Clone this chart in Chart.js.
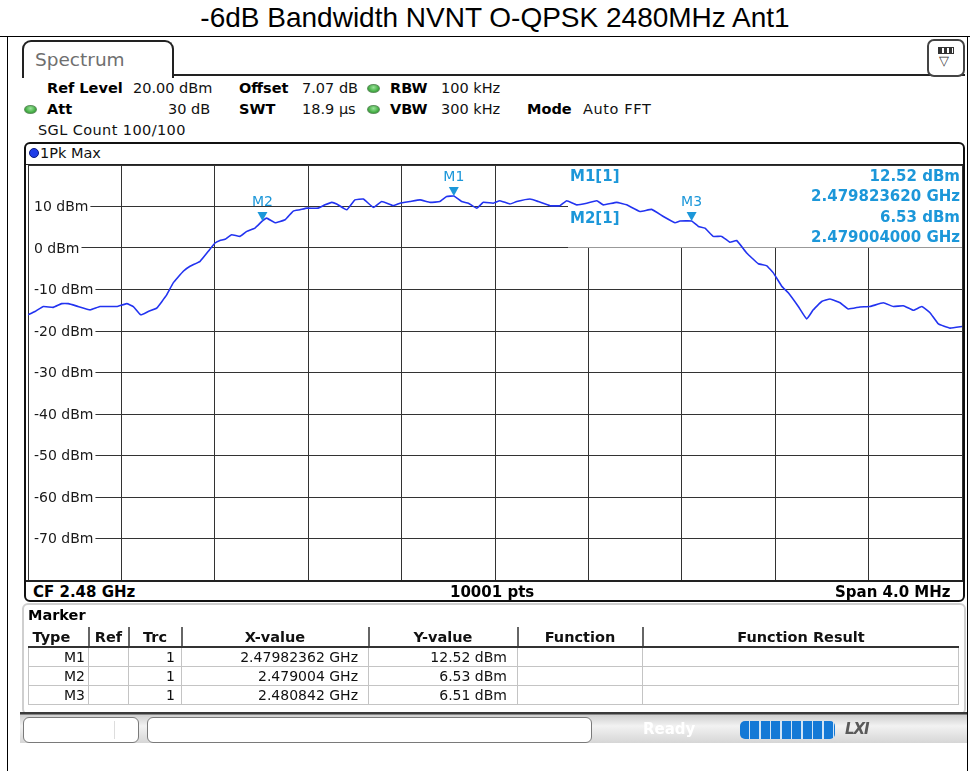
<!DOCTYPE html>
<html>
<head>
<meta charset="utf-8">
<title>-6dB Bandwidth NVNT O-QPSK 2480MHz Ant1</title>
<script src="https://cdn.jsdelivr.net/npm/chart.js@4.4.1/dist/chart.umd.min.js"></script>
<style>
html, body { margin: 0; padding: 0; background: #fff; }
#page { position: relative; width: 970px; height: 771px; overflow: hidden; font-family: 'DejaVu Sans', sans-serif; color: #111; }
.a { position: absolute; white-space: nowrap; font-size: 14.5px; line-height: 16px; }
.b { font-weight: bold; color: #000; }
.dot { position: absolute; width: 11px; height: 7px; border-radius: 50%; background: radial-gradient(ellipse at 50% 35%, #9be39b, #3aa83a 70%); border: 1px solid #5c8f5c; }
#title { position: absolute; left: 0; top: 0; width: 990px; height: 36px; text-align: center; font: 28px 'Liberation Sans', Arial, sans-serif; line-height: 36px; color: #000; }
.line { position: absolute; background: #000; }
#tab { position: absolute; left: 22px; top: 40px; width: 148px; height: 36px; border: 2px solid #222; border-bottom: none; border-radius: 9px 9px 0 0; background: #fff; }
#tab span { position: absolute; left: 11px; top: 7px; font-size: 18.5px; color: #6f6f6f; }
#icon { position: absolute; left: 927px; top: 39px; width: 34px; height: 34px; border: 2px solid #444; border-radius: 7px; background: #fff; }
#frame { position: absolute; left: 24px; top: 142px; width: 937px; height: 456px; border: 2px solid #111; border-radius: 6px; }
#chartbox { position: absolute; left: 27px; top: 164px; width: 937px; height: 418px; }
#mpanel { position: absolute; left: 22px; top: 603px; width: 940px; height: 108px; border: 2px solid #cfcfcf; border-radius: 6px; }
table { position: absolute; left: 28px; top: 627px; border-collapse: collapse; font-size: 14px; table-layout: fixed; }
th { font-weight: bold; font-size: 14.5px; height: 19px; padding: 0; border-right: 2px solid #666; border-bottom: 2px solid #333; }
td { height: 18px; padding: 0 6px 0 0; text-align: right; border: 1px solid #c4c4c4; color: #111; }
#status { position: absolute; left: 20px; top: 712px; width: 947px; height: 31px; background: linear-gradient(#3a3a3a 0, #3a3a3a 2px, #cfcfcf 3px, #f2f2f2 45%, #d6d6d6 100%); }
.sbox { position: absolute; top: 717px; height: 24px; background: #fff; border: 1px solid #7a7a7a; border-radius: 6px; }
#bar { position: absolute; left: 740px; top: 721px; width: 95px; height: 18px; border-radius: 5px; background: repeating-linear-gradient(90deg, #1479d6 0, #1479d6 9px, #cfe4f7 9px, #cfe4f7 10.5px); }
</style>
</head>
<body>
<div id="page">
  <div id="title">-6dB Bandwidth NVNT O-QPSK 2480MHz Ant1</div>
  <div class="line" style="left:0;top:36px;width:970px;height:1px;"></div>
  <div class="line" style="left:7px;top:36px;width:1px;height:735px;"></div>
  <div class="line" style="left:967px;top:36px;width:1px;height:735px;"></div>

  <div class="line" style="left:170px;top:74px;width:795px;height:2px;background:#222;"></div>
  <div id="tab"><span>Spectrum</span></div>
  <div id="icon">
    <div style="position:absolute;left:9px;top:6px;width:14px;height:5px;border:1px solid #333;background:repeating-linear-gradient(90deg,#333 0,#333 3px,#fff 3px,#fff 5px);"></div>
    <div style="position:absolute;left:10px;top:13px;font-size:13px;line-height:14px;color:#333;">▽</div>
  </div>

  <div class="a b" style="left:47px;top:80px;">Ref Level</div>
  <div class="a" style="left:133px;top:80px;">20.00 dBm</div>
  <div class="a b" style="left:239px;top:80px;">Offset</div>
  <div class="a" style="left:302px;top:80px;">7.07 dB</div>
  <div class="dot" style="left:367px;top:84px;"></div>
  <div class="a b" style="left:390px;top:80px;">RBW</div>
  <div class="a" style="left:441px;top:80px;">100 kHz</div>

  <div class="dot" style="left:24px;top:105px;"></div>
  <div class="a b" style="left:47px;top:101px;">Att</div>
  <div class="a" style="left:168px;top:101px;">30 dB</div>
  <div class="a b" style="left:239px;top:101px;">SWT</div>
  <div class="a" style="left:302px;top:101px;">18.9 µs</div>
  <div class="dot" style="left:367px;top:105px;"></div>
  <div class="a b" style="left:390px;top:101px;">VBW</div>
  <div class="a" style="left:441px;top:101px;">300 kHz</div>
  <div class="a b" style="left:527px;top:101px;">Mode</div>
  <div class="a" style="left:583px;top:101px;letter-spacing:0.6px;">Auto FFT</div>

  <div class="a" style="left:38px;top:122px;letter-spacing:0.4px;">SGL Count 100/100</div>

  <div id="frame"></div>
  <div style="position:absolute;left:29px;top:148px;width:8px;height:8px;border-radius:50%;background:#1f3de8;border:1px solid #0a1a80;"></div>
  <div class="a" style="left:40px;top:145px;">1Pk Max</div>
  <div class="line" style="left:26px;top:164px;width:937px;height:1px;background:#222;"></div>

  <div id="chartbox"><canvas id="spec" width="937" height="418"></canvas></div>

  <div class="line" style="left:26px;top:580px;width:937px;height:2px;background:#222;"></div>
  <div class="a b" style="left:33px;top:584px;font-size:15px;">CF 2.48 GHz</div>
  <div class="a b" style="left:450px;top:584px;font-size:15px;">10001 pts</div>
  <div class="a b" style="left:835px;top:584px;font-size:15px;">Span 4.0 MHz</div>

  <div id="mpanel"></div>
  <div class="a b" style="left:28px;top:607px;">Marker</div>
  <table id="mtable">
    <colgroup>
      <col style="width:60px"><col style="width:40px"><col style="width:53px"><col style="width:187px"><col style="width:149px"><col style="width:125px"><col style="width:316px">
    </colgroup>
    <thead><tr><th style="text-align:left;padding-left:4px;">Type</th><th>Ref</th><th>Trc</th><th>X-value</th><th>Y-value</th><th>Function</th><th style="border-right:none;">Function Result</th></tr></thead>
    <tbody id="mbody"></tbody>
  </table>

  <div id="status"></div>
  <div class="sbox" style="left:23px;width:114px;"><div style="position:absolute;left:90px;top:3px;width:1px;height:18px;background:#ddd;"></div></div>
  <div class="sbox" style="left:147px;width:443px;"></div>
  <div class="a b" style="left:643px;top:721px;color:#fff;font-size:15px;">Ready</div>
  <div id="bar"></div>
  <div class="a b" style="left:845px;top:721px;color:#5a5a5a;font-style:italic;font-size:15px;letter-spacing:-1px;">LXI</div>
</div>

<script>
// trace 1 (1Pk Max)
const traceFreqMHz = [
  2478.000, 2478.030, 2478.066, 2478.108, 2478.144, 2478.173, 2478.215, 2478.266, 2478.308, 2478.380,
  2478.423, 2478.451, 2478.483, 2478.515, 2478.551, 2478.594, 2478.622, 2478.665, 2478.694, 2478.737,
  2478.772, 2478.801, 2478.822, 2478.844, 2478.872, 2478.908, 2478.937, 2478.972, 2479.004, 2479.022,
  2479.058, 2479.101, 2479.136, 2479.165, 2479.194, 2479.243, 2479.272, 2479.301, 2479.322, 2479.365,
  2479.400, 2479.436, 2479.479, 2479.515, 2479.564, 2479.593, 2479.636, 2479.679, 2479.722, 2479.764,
  2479.793, 2479.824, 2479.857, 2479.886, 2479.922, 2479.950, 2479.993, 2480.021, 2480.064, 2480.093,
  2480.150, 2480.185, 2480.236, 2480.278, 2480.307, 2480.350, 2480.393, 2480.436, 2480.464, 2480.521,
  2480.564, 2480.621, 2480.671, 2480.721, 2480.771, 2480.792, 2480.842, 2480.871, 2480.899, 2480.935,
  2480.971, 2481.006, 2481.035, 2481.078, 2481.128, 2481.164, 2481.192, 2481.228, 2481.256, 2481.299,
  2481.335, 2481.363, 2481.399, 2481.435, 2481.478, 2481.513, 2481.563, 2481.606, 2481.663, 2481.706,
  2481.749, 2481.792, 2481.828, 2481.863, 2481.899, 2481.949, 2482.000
];
const traceLevelDbm = [
  -16.1, -15.3, -14.1, -14.3, -13.4, -13.4, -14.1, -14.9, -14.1, -14.1,
  -13.4, -14.1, -16.1, -15.3, -14.5, -11.3, -8.4, -5.6, -4.4, -3.2,
  -0.8, 1.2, 1.8, 2.1, 3.2, 2.8, 4.0, 4.8, 6.53, 7.2,
  6.1, 6.8, 8.9, 9.2, 9.6, 9.6, 10.4, 11.0, 10.6, 9.2,
  11.6, 11.8, 9.8, 11.2, 10.2, 10.8, 11.2, 11.6, 11.0, 11.2,
  12.4, 12.52, 11.2, 10.8, 9.6, 11.0, 10.8, 11.4, 10.6, 11.2,
  11.8, 11.2, 10.2, 10.2, 11.4, 10.4, 10.8, 11.4, 10.4, 11.0,
  10.4, 8.8, 9.3, 7.6, 6.1, 6.5, 6.51, 5.2, 4.8, 2.8,
  2.8, 1.4, 1.8, -1.2, -3.8, -4.3, -6.0, -9.2, -10.8, -14.1,
  -17.1, -14.9, -12.9, -12.3, -13.2, -14.7, -14.2, -14.1, -13.2, -14.1,
  -13.9, -15.0, -14.1, -15.6, -18.3, -19.3, -18.9
];

// markers
const markerNames = ['M1', 'M2', 'M3'];
const markerFreqMHz = [2479.82362, 2479.004, 2480.842];
const markerLevelDbm = [12.52, 6.53, 6.51];

// axes
const freqStartMHz = 2478, freqStopMHz = 2482, freqDivMHz = 0.4;
const refLevelDbm = 20, bottomLevelDbm = -80, levelDivDb = 10;
const yTickValues = [10, 0, -10, -20, -30, -40, -50, -60, -70];
const yTickLabels = ['10 dBm', '0 dBm', '-10 dBm', '-20 dBm', '-30 dBm', '-40 dBm', '-50 dBm', '-60 dBm', '-70 dBm'];

// marker info (top right of the diagram)
const infoLeft = ['M1[1]', 'M2[1]'];
const infoRight = ['12.52 dBm', '2.479823620 GHz', '6.53 dBm', '2.479004000 GHz'];

// marker table
const tableType = ['M1', 'M2', 'M3'];
const tableRef = ['', '', ''];
const tableTrc = ['1', '1', '1'];
const tableX = ['2.47982362 GHz', '2.479004 GHz', '2.480842 GHz'];
const tableY = ['12.52 dBm', '6.53 dBm', '6.51 dBm'];

const MK_COLOR = '#1c97d9';

// fill the marker table
const tbody = document.getElementById('mbody');
tableType.forEach(function(t, i) {
  const tr = document.createElement('tr');
  [t, tableRef[i], tableTrc[i], tableX[i], tableY[i], '', ''].forEach(function(v, j) {
    const td = document.createElement('td');
    td.textContent = v;
    if (j === 0) td.style.paddingRight = '3px';
    if (j === 3 || j === 4) td.style.paddingRight = '10px';
    tr.appendChild(td);
  });
  tbody.appendChild(tr);
});

// draws the white marker-info area, marker text and the level labels on the grid
const overlayPlugin = {
  id: 'overlay',
  beforeDatasetsDraw(chart) {
    const ctx = chart.ctx, area = chart.chartArea, ys = chart.scales.y;
    ctx.save();
    // marker info field hides the grid behind it
    const y0 = ys.getPixelForValue(0);
    ctx.fillStyle = '#fff';
    ctx.fillRect(541, area.top + 1, area.right - 541, y0 - area.top - 1.5);
    ctx.font = 'bold 15px "DejaVu Sans"';
    ctx.fillStyle = MK_COLOR;
    ctx.textBaseline = 'middle';
    ctx.textAlign = 'left';
    ctx.fillText(infoLeft[0], 543, area.top + 12);
    ctx.fillText(infoLeft[1], 543, area.top + 54);
    ctx.textAlign = 'right';
    infoRight.forEach(function(s, i) {
      ctx.fillText(s, area.right - 2, area.top + 12 + i * 20.5);
    });
    // level labels
    ctx.font = '14px "DejaVu Sans"';
    ctx.textAlign = 'left';
    yTickValues.forEach(function(v, i) {
      const y = ys.getPixelForValue(v);
      const w = ctx.measureText(yTickLabels[i]).width;
      ctx.fillStyle = '#fff';
      ctx.fillRect(area.left + 1, y - 7, w + 7, 14);
      ctx.fillStyle = '#1a1a1a';
      ctx.fillText(yTickLabels[i], area.left + 6, y + 1);
    });
    ctx.restore();
  },
  afterDatasetsDraw(chart) {
    const ctx = chart.ctx, xs = chart.scales.x, ys = chart.scales.y;
    ctx.save();
    ctx.fillStyle = MK_COLOR;
    ctx.font = '14px "DejaVu Sans"';
    ctx.textAlign = 'center';
    ctx.textBaseline = 'middle';
    markerNames.forEach(function(name, i) {
      const px = xs.getPixelForValue(markerFreqMHz[i]);
      const py = ys.getPixelForValue(markerLevelDbm[i]);
      ctx.beginPath();
      ctx.moveTo(px - 5, py - 9);
      ctx.lineTo(px + 5, py - 9);
      ctx.lineTo(px, py);
      ctx.closePath();
      ctx.fill();
      ctx.fillText(name, px, py - 19);
    });
    ctx.restore();
  }
};

new Chart(document.getElementById('spec'), {
  type: 'line',
  data: {
    datasets: [{
      label: '1Pk Max',
      data: traceFreqMHz.map(function(f, i) { return { x: f, y: traceLevelDbm[i] }; }),
      borderColor: '#2233f0',
      borderWidth: 1.6,
      pointRadius: 0,
      tension: 0.1,
      fill: false
    }]
  },
  options: {
    responsive: false,
    animation: false,
    events: [],
    layout: { padding: { left: 1, top: 1, right: 2, bottom: 2 } },
    plugins: { legend: { display: false }, tooltip: { enabled: false } },
    scales: {
      x: {
        type: 'linear',
        min: freqStartMHz,
        max: freqStopMHz,
        ticks: { display: false, stepSize: freqDivMHz },
        grid: { color: '#333', lineWidth: 1, drawTicks: false },
        border: { display: false }
      },
      y: {
        min: bottomLevelDbm,
        max: refLevelDbm,
        ticks: { display: false, stepSize: levelDivDb },
        grid: { color: '#333', lineWidth: 1, drawTicks: false },
        border: { display: false }
      }
    }
  },
  plugins: [overlayPlugin]
});
</script>
</body>
</html>
